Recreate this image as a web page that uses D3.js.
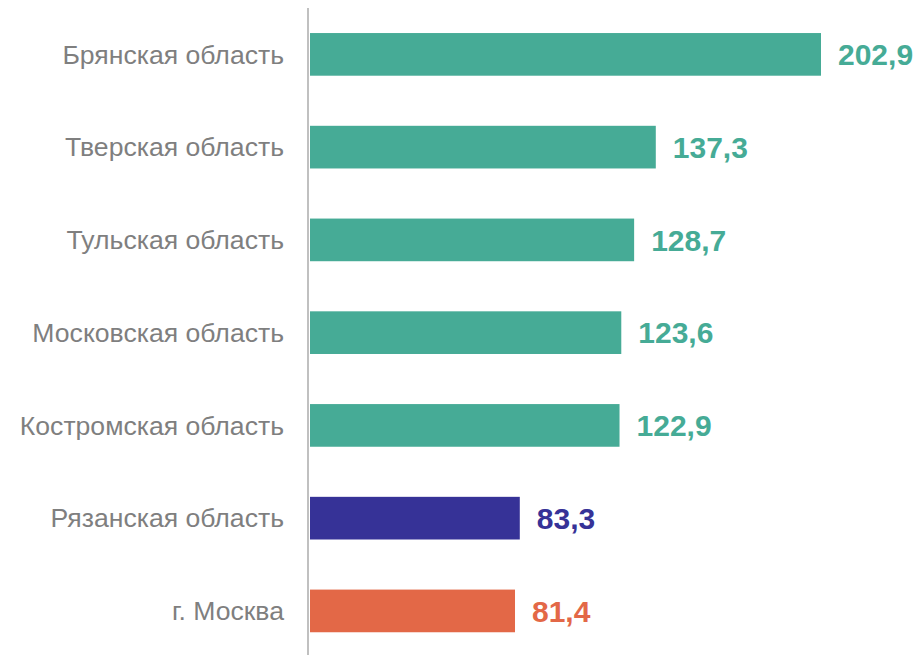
<!DOCTYPE html>
<html lang="ru">
<head>
    <meta charset="utf-8">
    <style>
        body { margin: 0; background: #fff; }
        .cat { fill: #7f7f7f; font-family: "Liberation Sans", Arial, sans-serif; font-size: 26.6px; }
        .val { font-family: "Liberation Sans", Arial, sans-serif; font-size: 30px; font-weight: bold; }
    </style>
    <script src="https://d3js.org/d3.v7.min.js"></script>
</head>
<body>
    <svg width="922" height="655"></svg>
    <script>
        var regions = ["Брянская область", "Тверская область", "Тульская область",
                       "Московская область", "Костромская область", "Рязанская область", "г. Москва"];
        var values = [202.9, 137.3, 128.7, 123.6, 122.9, 83.3, 81.4];
        var colors = ["#46ab96", "#46ab96", "#46ab96", "#46ab96", "#46ab96", "#363297", "#e36847"];

        var data = regions.map(function(r, i) {
            return { region: r, value: values[i], color: colors[i] };
        });

        var svg = d3.select("svg");

        var x = d3.scaleLinear()
            .domain([0, d3.max(values)])
            .range([310, 821]);

        var y = d3.scaleBand()
            .domain(regions)
            .range([8, 657.3])
            .paddingInner(0.54)
            .paddingOuter(0.27);

        var fmt = function(v) { return d3.format(".1f")(v).replace(".", ","); };

        svg.selectAll(".bar")
            .data(data)
            .enter().append("rect")
            .attr("class", "bar")
            .attr("x", x(0))
            .attr("y", function(d) { return y(d.region); })
            .attr("width", function(d) { return x(d.value) - x(0); })
            .attr("height", y.bandwidth())
            .attr("fill", function(d) { return d.color; });

        // vertical axis line
        svg.append("line")
            .attr("x1", 308).attr("x2", 308)
            .attr("y1", 8).attr("y2", 655)
            .attr("stroke", "#c0c0c0")
            .attr("stroke-width", 2);

        svg.selectAll(".cat")
            .data(data)
            .enter().append("text")
            .attr("class", "cat")
            .attr("x", 284)
            .attr("y", function(d) { return y(d.region) + y.bandwidth() / 2; })
            .attr("dy", "0.35em")
            .attr("text-anchor", "end")
            .text(function(d) { return d.region; });

        svg.selectAll(".val")
            .data(data)
            .enter().append("text")
            .attr("class", "val")
            .attr("x", function(d) { return x(d.value) + 17; })
            .attr("y", function(d) { return y(d.region) + y.bandwidth() / 2; })
            .attr("dy", "0.36em")
            .attr("fill", function(d) { return d.color; })
            .text(function(d) { return fmt(d.value); });
    </script>
</body>
</html>
